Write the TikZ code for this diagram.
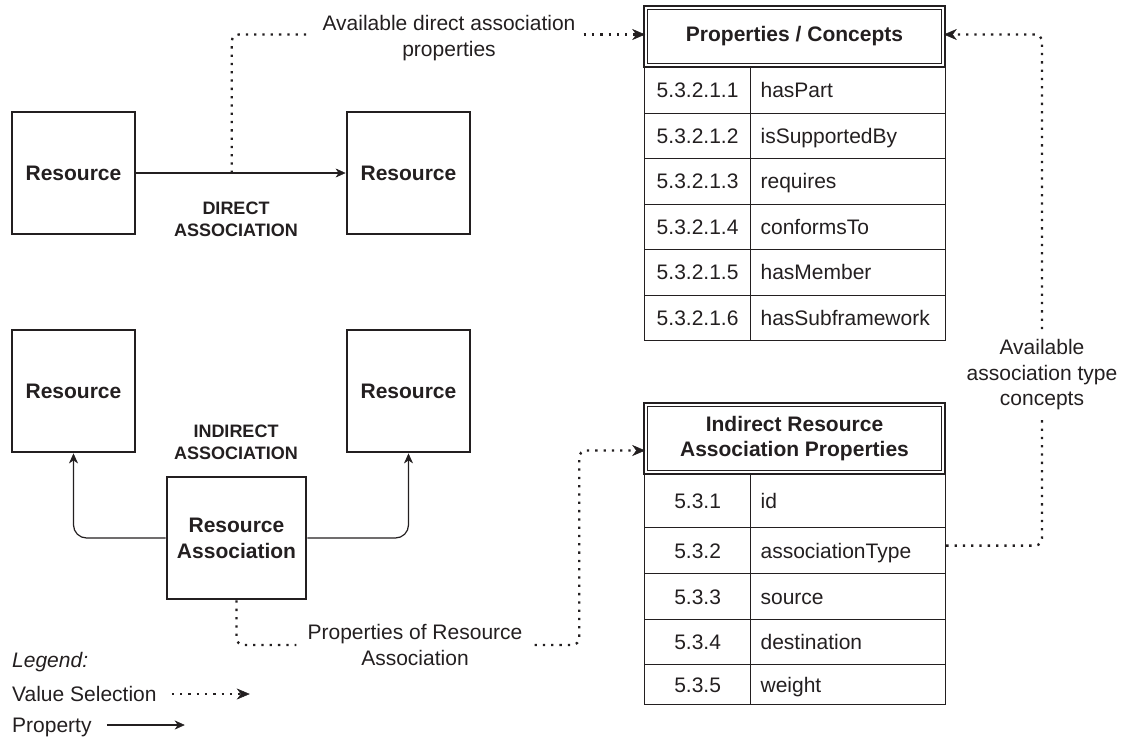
\documentclass[tikz,border=0pt]{standalone}
\usepackage{fontspec}
\setmainfont{Liberation Sans}
\usetikzlibrary{arrows.meta,calc}
\definecolor{ink}{RGB}{35,31,32}
\begin{document}
\begin{tikzpicture}[x=1pt,y=-1pt,
  every node/.style={text=ink},
  txt/.style={font=\fontsize{21}{25.5}\selectfont},
  lbl/.style={txt,align=center,inner sep=0pt},
  box/.style={draw=ink,line width=2.8pt,minimum width=123pt,minimum height=122pt,
    font=\bfseries\fontsize{21}{26}\selectfont,align=center,inner sep=0pt},
  caplabel/.style={font=\bfseries\fontsize{18}{22}\selectfont,align=center,inner sep=0pt},
  hdr/.style={draw=ink,line width=1.2pt,double=white,double distance=2.4pt,
    minimum width=297.4pt,font=\bfseries\fontsize{21}{25}\selectfont,align=center,inner sep=0pt},
  cellbase/.style={txt,draw=ink,line width=1.2pt,anchor=north west,inner ysep=0pt,
    text height=17pt,text depth=2pt},
  numcell/.style={cellbase,minimum width=106pt,inner xsep=0pt},
  namecell/.style={cellbase,text width=175pt,align=left,inner xsep=10pt},
  prop/.style={draw=ink,line width=1.2pt,
    -{Stealth[length=10pt,width=9pt,inset=3pt,line width=0.5pt]}},
  valsel/.style={draw=ink,line width=2.3pt,dash pattern=on 2.3pt off 6pt,
    -{Stealth[length=13pt,width=11pt,inset=4pt,line width=0.5pt]}},
  legtext/.style={txt,anchor=west,inner sep=0pt,text height=17pt,text depth=2pt}]
\useasboundingbox (0,0) rectangle (1124,739);

% ---- direct association ----
\node[box] (rl1) at (73.5,173) {Resource};
\node[box] (rr1) at (408.5,173) {Resource};
\node[caplabel] (dlab) at (236,219) {DIRECT\\ASSOCIATION};
\draw[prop] (rl1) -- (rr1);
\coordinate (dsplit) at ($(rl1.east)!0.456!(rr1.west)$);

% ---- indirect association ----
\node[box] (rl2) at (73.5,391) {Resource};
\node[box] (rr2) at (408.5,391) {Resource};
\node[box,minimum width=139pt] (ra) at (236.5,538) {Resource\\Association};
\node[caplabel] (ilab) at (236,442) {INDIRECT\\ASSOCIATION};
\draw[prop,rounded corners=13pt] (ra.west) -| (rl2.south);
\draw[prop,rounded corners=13pt] (ra.east) -| (rr2.south);

% ---- table: properties / concepts ----
\node[hdr,minimum height=57.4pt] (t1h) at (794.5,36.5) {Properties / Concepts};
\foreach \num/\name [count=\i] in {5.3.2.1.1/hasPart,5.3.2.1.2/isSupportedBy,
    5.3.2.1.3/requires,5.3.2.1.4/conformsTo,5.3.2.1.5/hasMember,5.3.2.1.6/hasSubframework}{
  \node[numcell,minimum height=45.5pt] (t1n\i) at (644,{67+45.5*(\i-1)}) {\num};
  \node[namecell,minimum height=45.5pt] (t1v\i) at (750,{67+45.5*(\i-1)}) {\name};
}

% ---- table: indirect resource association properties ----
\node[hdr,minimum height=67.4pt] (t2h) at (794.5,438.5) {Indirect Resource\\Association Properties};
\foreach \num/\name/\rowtop/\rowh [count=\i] in {5.3.1/id/474/53,5.3.2/associationType/527/46,
    5.3.3/source/573/46,5.3.4/destination/619/45,5.3.5/weight/664/40}{
  \node[numcell,minimum height=\rowh pt] (t2n\i) at (644,\rowtop) {\num};
  \node[namecell,minimum height=\rowh pt] (t2v\i) at (750,\rowtop) {\name};
}

% ---- value selection links ----
\node[lbl] (avail1) at (449,38) {Available direct association\\properties};
\coordinate (t1in) at ([yshift=2pt]t1h.west);
\coordinate (t1out) at ([yshift=2pt]t1h.east);
\coordinate (a1w) at ([xshift=-16pt]avail1.west);
\coordinate (a1e) at ([xshift=8pt]avail1.east);
\draw[valsel,-,rounded corners=7pt] (dsplit) |- (a1w |- t1in);
\draw[valsel] (a1e |- t1in) -- (t1in);

\node[lbl] (props) at (415,645) {Properties of Resource\\Association};
\coordinate (t2in) at ([yshift=-12pt]t2h.west);
\coordinate (t2bend) at ($(t2in)+(-66,0)$);
\draw[valsel,-,rounded corners=7pt] (ra.south) |- ([xshift=-11pt]props.west);
\draw[valsel,rounded corners=7pt] ([xshift=12pt]props.east) -| (t2bend) -- (t2in);

\node[lbl,inner ysep=10pt] (avail2) at (1042,374.6) {Available\\association type\\concepts};
\draw[valsel,-,rounded corners=7pt] ([yshift=5pt]t2v2.east) -| (avail2.south);
\draw[valsel,rounded corners=7pt] (avail2.north) |- (t1out);

% ---- legend ----
\node[legtext,font=\itshape\fontsize{21}{25.5}\selectfont] (leg) at (12,660) {Legend:};
\node[legtext] (vs) at (12,694) {Value Selection};
\node[legtext] (pr) at (12,725) {Property};
\coordinate (vsa) at ([xshift=15pt]vs.east);
\coordinate (vsb) at ([xshift=93pt]vs.east);
\coordinate (pra) at ([xshift=15pt]pr.east);
\coordinate (prb) at ([xshift=93pt]pr.east);
\draw[valsel] (vsa) -- (vsb);
\draw[prop] (pra) -- (prb);
\end{tikzpicture}
\end{document}
